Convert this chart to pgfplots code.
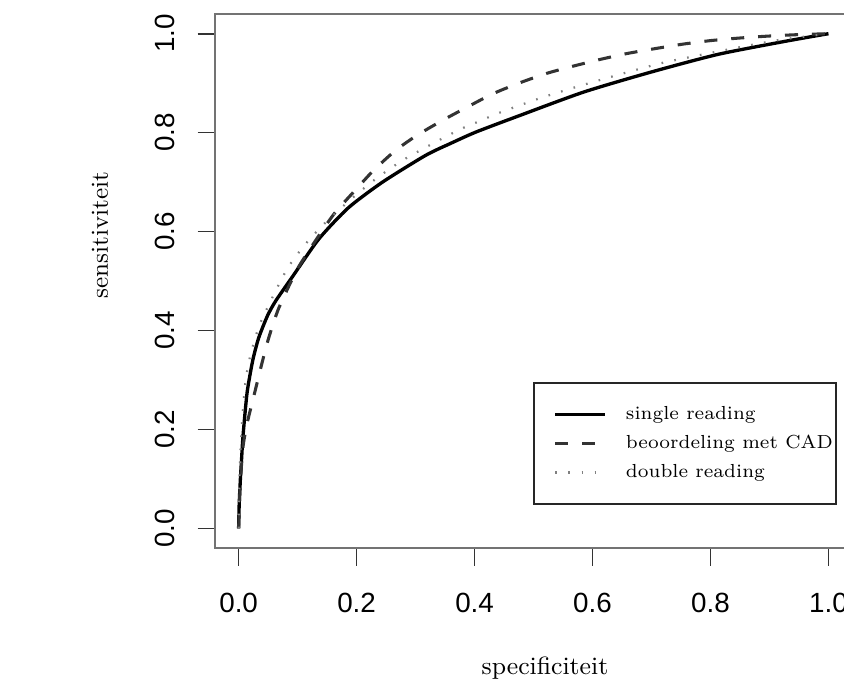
\documentclass[border=0pt]{standalone}
\usepackage{pgfplots}
\pgfplotsset{compat=1.18}
\usepackage{fontspec}
\newfontfamily\helv{Liberation Sans}
\newcommand{\lentry}[1]{\makebox[68.4pt][l]{#1}}
\begin{document}
\begin{tikzpicture}
% picture frame: 844 x 679 px, 1 px = 0.36pt, box lower left at (215,547.8) px
\useasboundingbox (-77.4pt,-47.2pt) rectangle (226.4pt,197.3pt);
\clip (-77.4pt,-47.2pt) rectangle (226.4pt,197.3pt);
\begin{axis}[
  at={(0pt,0pt)}, anchor=south west,
  scale only axis,
  width=229.3pt, height=192.3pt,
  xmin=-0.04, xmax=1.04,
  ymin=-0.04, ymax=1.04,
  axis line style={draw=black!55, line width=0.7pt},
  tick style={draw=black!80, line width=0.6pt},
  tick align=outside,
  major tick length=6.3pt,
  xtick pos=bottom, ytick pos=left,
  xtick={0,0.2,0.4,0.6,0.8,1},
  xticklabels={0.0,0.2,0.4,0.6,0.8,1.0},
  ytick={0,0.2,0.4,0.6,0.8,1},
  yticklabels={0.0,0.2,0.4,0.6,0.8,1.0},
  tick label style={font=\helv\fontsize{10}{12}\selectfont, inner sep=0pt},
  xticklabel style={anchor=north},
  yticklabel style={rotate=90, anchor=south},
  xticklabel shift=9.7pt,
  yticklabel shift=8.1pt,
  xlabel={specificiteit},
  ylabel={sensitiviteit},
  xlabel style={font=\fontsize{9.0}{11}\selectfont, at={(axis description cs:0.518,-0.225)}, anchor=center},
  ylabel style={font=\fontsize{8.8}{10}\selectfont, at={(axis description cs:-0.1805,0.586)}, anchor=center, rotate=0},
  legend cell align=left,
  legend image code/.code={\draw[#1] (0pt,0pt) -- (18pt,0pt);},
  legend style={at={(0.499,0.3105)}, anchor=north west,
    draw=black!85, line width=0.6pt,
    inner xsep=7.2pt, inner ysep=6.2pt,
    font=\fontsize{6.8}{9}\selectfont,
    nodes={inner sep=0pt, minimum height=10.4pt},
    /tikz/every odd column/.append style={column sep=6.8pt}},
]
\addplot[black, line width=1.2pt, smooth, tension=0.4] coordinates {
(0,0) (0.001,0.05) (0.003,0.1) (0.005,0.14) (0.007,0.18) (0.011,0.235)
(0.015,0.28) (0.024,0.34) (0.034,0.385) (0.049,0.43) (0.063,0.46)
(0.092,0.51) (0.136,0.585) (0.186,0.648) (0.244,0.7) (0.317,0.754)
(0.359,0.778) (0.402,0.801) (0.473,0.833) (0.585,0.882) (0.698,0.922)
(0.812,0.958) (0.924,0.984) (1,1)
};
\addlegendentry{\lentry{single reading}}
\addplot[black!80, line width=1.1pt, dash pattern=on 4.7pt off 5pt, smooth, tension=0.4] coordinates {
(0,0) (0.002,0.07) (0.005,0.13) (0.008,0.17) (0.014,0.21) (0.02,0.24)
(0.029,0.283) (0.04,0.336) (0.051,0.385) (0.068,0.445) (0.1,0.525)
(0.139,0.597) (0.164,0.639) (0.198,0.684) (0.229,0.724) (0.266,0.764)
(0.303,0.795) (0.346,0.825) (0.385,0.85) (0.43,0.878) (0.475,0.9)
(0.523,0.92) (0.566,0.934) (0.613,0.948) (0.659,0.96) (0.707,0.97)
(0.754,0.979) (0.8,0.986) (0.847,0.991) (0.896,0.995) (0.947,0.998) (1,1)
};
\addlegendentry{\lentry{beoordeling met CAD}}
\addplot[black!50, line width=0.8pt, dash pattern=on 0.6pt off 4.1pt, smooth, tension=0.4] coordinates {
(0,0) (0.001,0.08) (0.003,0.15) (0.006,0.22) (0.012,0.3) (0.02,0.35)
(0.035,0.41) (0.059,0.471) (0.083,0.526) (0.11,0.57) (0.142,0.612)
(0.19,0.665) (0.232,0.706) (0.278,0.744) (0.334,0.781) (0.376,0.807)
(0.402,0.82) (0.444,0.841) (0.512,0.87) (0.58,0.895) (0.647,0.918)
(0.715,0.94) (0.783,0.957) (0.851,0.973) (0.92,0.988) (1,1)
};
\addlegendentry{\lentry{double reading}}
\end{axis}
\end{tikzpicture}
\end{document}
